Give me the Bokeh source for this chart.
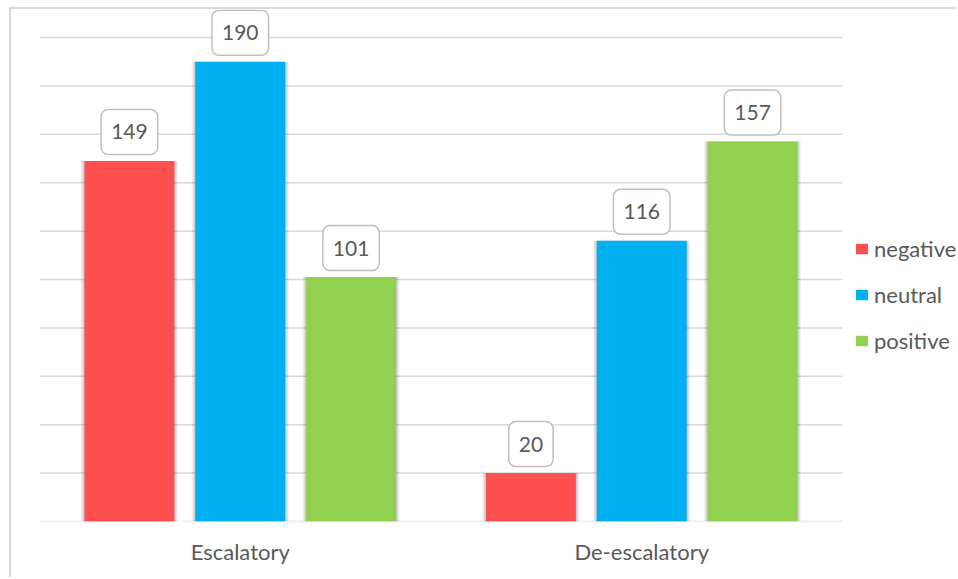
from bokeh.plotting import figure
from bokeh.models import ColumnDataSource, Legend, LegendItem, FixedTicker
from bokeh.core.properties import value
from bokeh.embed import file_html
from bokeh.resources import INLINE

categories = ["Escalatory", "De-escalatory"]
series = ["negative", "neutral", "positive"]
negative = [149, 20]
neutral = [190, 116]
positive = [101, 157]
colors = ["#FF5050", "#00B0F0", "#92D050"]
y_ticks = [0, 20, 40, 60, 80, 100, 120, 140, 160, 180, 200]

FONT = "Lato"
TXT = "#595959"
GRID = "#d9d9d9"

n = len(categories)
cat_pos = [i + 0.5 for i in range(n)]

p = figure(x_range=(0, 2.289), y_range=(0, 211.6),
           width=947, height=570, output_backend="svg", toolbar_location=None,
           min_border_left=28, min_border_top=0, min_border_bottom=58, min_border_right=0)
p.styles = {"margin-left": "9px", "margin-top": "7px",
            "border-top": "2px solid #d9d9d9", "border-left": "2px solid #d9d9d9"}
p.outline_line_color = None
p.background_fill_color = "white"
p.border_fill_color = "white"

p.yaxis.visible = False
p.xgrid.grid_line_color = None
p.ygrid.grid_line_color = None

# horizontal gridlines spanning the category area only
p.segment(x0=[0] * len(y_ticks), x1=[n] * len(y_ticks), y0=y_ticks, y1=y_ticks,
          line_color=GRID, line_width=1.5)

p.xaxis.ticker = FixedTicker(ticks=cat_pos)
p.xaxis.major_label_overrides = {pos: c for pos, c in zip(cat_pos, categories)}
p.xaxis.axis_line_color = None
p.xaxis.major_tick_line_color = None
p.xaxis.minor_tick_line_color = None
p.xaxis.major_label_text_font = FONT
p.xaxis.major_label_text_font_size = "22px"
p.xaxis.major_label_text_color = TXT
p.xaxis.major_label_standoff = 10

offsets = [-0.276, 0.0, 0.276]
bw = 0.224
values = [negative, neutral, positive]
items = []
for name, vals, col, off in zip(series, values, colors, offsets):
    src = ColumnDataSource(dict(x=[c + off for c in cat_pos], val=vals,
                                txt=[str(v) for v in vals]))
    # soft shadow
    for extra, alpha in [(0.018, 0.05), (0.012, 0.07), (0.006, 0.10)]:
        p.vbar(x="x", top="val", bottom=-1.2, width=bw + extra, source=src,
               fill_color="#000000", fill_alpha=alpha, line_color=None)
    r = p.vbar(x="x", top="val", bottom=0, width=bw, source=src,
               fill_color=col, line_color=None)
    items.append(LegendItem(label=name, renderers=[r]))
    p.text(x="x", y="val", text="txt", source=src, y_offset=-29,
           text_align="center", text_baseline="middle",
           text_font=value(FONT), text_font_size="21px", text_color=TXT,
           background_fill_color="white",
           border_line_color="#bfbfbf", border_line_width=1.5,
           border_radius=7, padding=(10, 15))

legend = Legend(items=items, location=(815, 167), orientation="vertical",
                label_text_font=FONT, label_text_font_size="22px",
                label_text_color=TXT, glyph_width=15, glyph_height=13,
                label_standoff=5, spacing=19, padding=0, margin=0,
                border_line_color=None, background_fill_alpha=0)
p.add_layout(legend)

open("out.html", "w").write(file_html(p, INLINE))
